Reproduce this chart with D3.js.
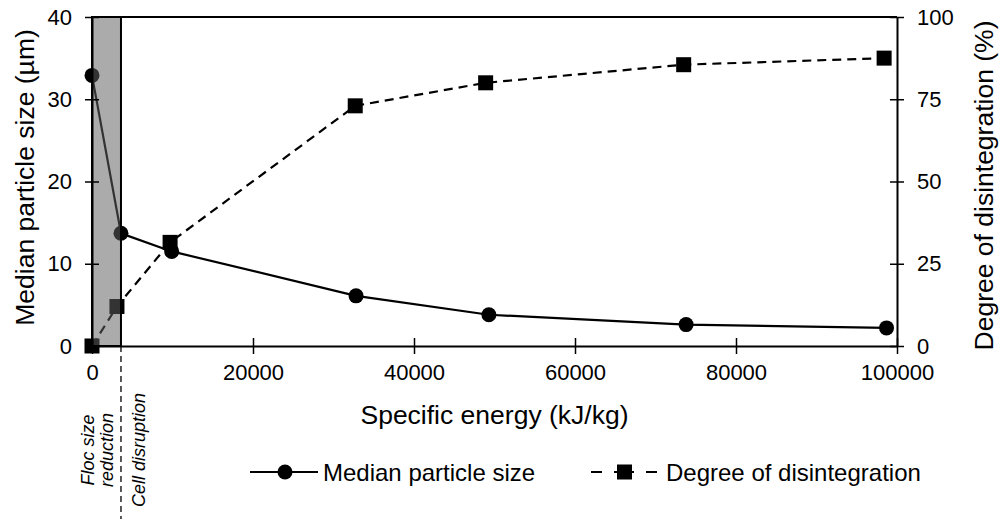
<!DOCTYPE html>
<html>
<head>
<meta charset="utf-8">
<script src="https://cdn.jsdelivr.net/npm/d3@7"></script>
<style>
  body { margin: 0; background: #fff; }
  text { font-family: "Liberation Sans", Arial, sans-serif; fill: #000; }
</style>
</head>
<body>
<script>
// median particle size (um) vs specific energy
var sizeEnergy = [0, 3600, 9900, 32800, 49300, 73800, 98700];
var sizeValues = [32.9, 13.7, 11.5, 6.1, 3.8, 2.6, 2.2];
// degree of disintegration (%)
var disEnergy = [0, 3100, 9700, 32700, 48900, 73500, 98400];
var disValues = [0, 12, 31.5, 73, 80, 85.5, 87.5];

var xTicks = [0, 20000, 40000, 60000, 80000, 100000];
var yLeftTicks = [0, 10, 20, 30, 40];
var yRightTicks = [0, 25, 50, 75, 100];
var flocEnd = 3600; // end of floc size reduction zone

var W = 1002, H = 519;
var margin = {left: 92, right: 105, top: 17, bottom: 173};

var x = d3.scaleLinear().domain([0, 100000]).range([margin.left, W - margin.right]);
var yL = d3.scaleLinear().domain([0, 40]).range([H - margin.bottom, margin.top]);
var yR = d3.scaleLinear().domain([0, 100]).range([H - margin.bottom, margin.top]);

var svg = d3.select("body").append("svg").attr("width", W).attr("height", H);

// frame top line
svg.append("line")
  .attr("x1", x(0)).attr("x2", x(100000))
  .attr("y1", yL(40)).attr("y2", yL(40))
  .attr("stroke", "#000").attr("stroke-width", 2);

// dashed separator below the axis
svg.append("line")
  .attr("x1", x(flocEnd)).attr("x2", x(flocEnd))
  .attr("y1", yL(0)).attr("y2", H)
  .attr("stroke", "#000").attr("stroke-width", 1.3)
  .attr("stroke-dasharray", "6,4");

// series lines
var lineSize = d3.line().x(function(d, i){ return x(sizeEnergy[i]); }).y(function(d){ return yL(d); });
var lineDis = d3.line().x(function(d, i){ return x(disEnergy[i]); }).y(function(d){ return yR(d); });

svg.append("path").datum(disValues)
  .attr("d", lineDis).attr("fill", "none")
  .attr("stroke", "#000").attr("stroke-width", 2.2).attr("stroke-dasharray", "9,6");

svg.append("path").datum(sizeValues)
  .attr("d", lineSize).attr("fill", "none")
  .attr("stroke", "#000").attr("stroke-width", 2.2);

svg.selectAll("rect.sq").data(disValues).enter().append("rect")
  .attr("class", "sq")
  .attr("x", function(d, i){ return x(disEnergy[i]) - 7.5; })
  .attr("y", function(d){ return yR(d) - 7.5; })
  .attr("width", 15).attr("height", 15).attr("fill", "#000");

svg.selectAll("circle.pt").data(sizeValues).enter().append("circle")
  .attr("class", "pt")
  .attr("cx", function(d, i){ return x(sizeEnergy[i]); })
  .attr("cy", function(d){ return yL(d); })
  .attr("r", 7.5).attr("fill", "#000");

// shaded zone (semi-transparent, drawn over the series)
svg.append("rect")
  .attr("x", x(0)).attr("y", yL(40))
  .attr("width", x(flocEnd) - x(0)).attr("height", yL(0) - yL(40))
  .attr("fill", "rgb(96,96,96)").attr("fill-opacity", 0.53)
  .attr("stroke", "#000").attr("stroke-width", 2);

// axes
var xAxis = d3.axisBottom(x).tickValues(xTicks).tickFormat(d3.format("d")).tickSizeInner(8).tickSizeOuter(0);
var yAxisL = d3.axisLeft(yL).tickValues(yLeftTicks).tickSizeInner(7).tickSizeOuter(0);
var yAxisR = d3.axisRight(yR).tickValues(yRightTicks).tickSizeInner(7).tickSizeOuter(0);

function styleAxis(g) {
  g.select(".domain").attr("stroke", "#000").attr("stroke-width", 2);
  g.selectAll(".tick line").attr("stroke", "#000").attr("stroke-width", 1.5);
  g.selectAll(".tick text").attr("font-size", 22).attr("font-family", "Liberation Sans, Arial, sans-serif");
}

var gx = svg.append("g").attr("transform", "translate(0," + yL(0) + ")").call(xAxis);
styleAxis(gx);
gx.selectAll(".tick line").attr("y1", -8);
gx.selectAll(".tick text").attr("y", 18);

var gl = svg.append("g").attr("transform", "translate(" + x(0) + ",0)").call(yAxisL);
styleAxis(gl);
gl.selectAll(".tick line").attr("x2", 7).attr("x1", -7);
gl.selectAll(".tick text").attr("x", -20);

var gr = svg.append("g").attr("transform", "translate(" + x(100000) + ",0)").call(yAxisR);
styleAxis(gr);
gr.selectAll(".tick line").attr("x1", -7).attr("x2", 7);
gr.selectAll(".tick text").attr("x", 20);

// axis titles
svg.append("text")
  .attr("x", (x(0) + x(100000)) / 2).attr("y", 424)
  .attr("text-anchor", "middle").attr("font-size", 26.5)
  .text("Specific energy (kJ/kg)");

svg.append("text")
  .attr("transform", "translate(34," + ((yL(0) + yL(40)) / 2 - 4) + ") rotate(-90)")
  .attr("text-anchor", "middle").attr("font-size", 26.5)
  .text("Median particle size (µm)");

svg.append("text")
  .attr("transform", "translate(993," + ((yL(0) + yL(40)) / 2 + 4) + ") rotate(-90)")
  .attr("text-anchor", "middle").attr("font-size", 26.5)
  .text("Degree of disintegration (%)");

// zone labels
var zoneLabels = [
  {t: "Floc size", dx: -27},
  {t: "reduction", dx: -8},
  {t: "Cell disruption", dx: 24}
];
svg.selectAll("text.zone").data(zoneLabels).enter().append("text")
  .attr("class", "zone")
  .attr("transform", function(d){ return "translate(" + (x(flocEnd) + d.dx) + ",450) rotate(-90)"; })
  .attr("text-anchor", "middle").attr("font-size", 18).attr("font-style", "italic")
  .text(function(d){ return d.t; });

// legend
var ly = 472;
var leg = svg.append("g");
leg.append("line").attr("x1", 250).attr("x2", 318).attr("y1", ly).attr("y2", ly)
  .attr("stroke", "#000").attr("stroke-width", 2.2);
leg.append("circle").attr("cx", 285).attr("cy", ly).attr("r", 7.5).attr("fill", "#000");
leg.append("text").attr("x", 323).attr("y", ly + 8.5).attr("font-size", 24).text("Median particle size");

leg.append("line").attr("x1", 591).attr("x2", 657).attr("y1", ly).attr("y2", ly)
  .attr("stroke", "#000").attr("stroke-width", 2.2).attr("stroke-dasharray", "11,12,20,12,11");
leg.append("rect").attr("x", 617).attr("y", ly - 7.5).attr("width", 15).attr("height", 15).attr("fill", "#000");
leg.append("text").attr("x", 666).attr("y", ly + 8.5).attr("font-size", 24).text("Degree of disintegration");
</script>
</body>
</html>
